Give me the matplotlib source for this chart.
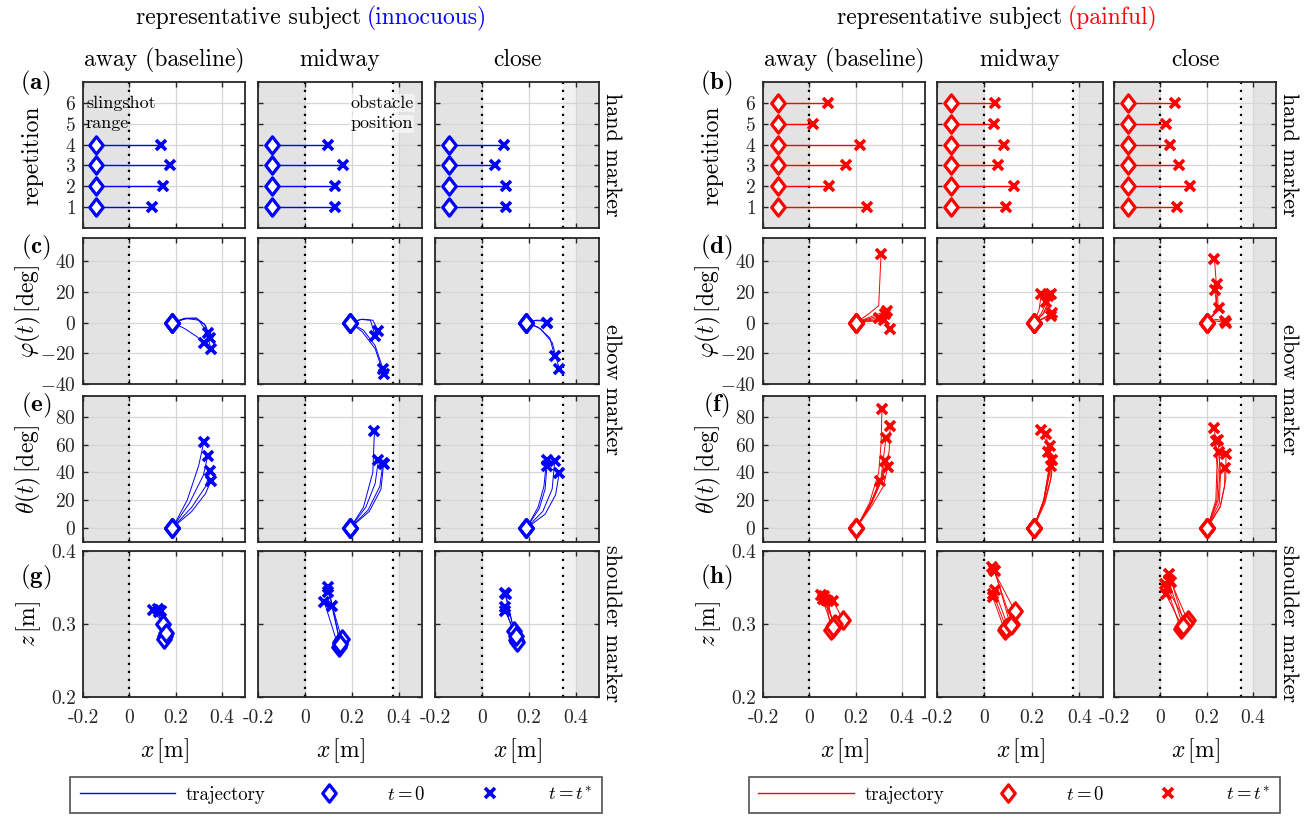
import matplotlib.pyplot as plt
from matplotlib.lines import Line2D
from matplotlib.path import Path

plt.rcParams["font.family"] = "cmr10"
plt.rcParams["mathtext.fontset"] = "cm"
plt.rcParams["axes.unicode_minus"] = False
plt.rcParams["axes.formatter.use_mathtext"] = True

# ---- data ----
conditions = ["away (baseline)", "midway", "close"]
obstacle_inn = [None, 0.378, 0.345]
obstacle_pain = [None, 0.373, 0.350]

# hand marker: x at t=0 per condition, x at t=t* per repetition (1..n)
hand_x0_inn = [-0.142, -0.141, -0.140]
hand_xt_inn = [[0.097, 0.144, 0.176, 0.137],
               [0.128, 0.128, 0.164, 0.097],
               [0.105, 0.105, 0.055, 0.094]]
hand_x0_pain = [-0.135, -0.140, -0.138]
hand_xt_pain = [[0.249, 0.084, 0.159, 0.217, 0.015, 0.080],
                [0.091, 0.123, 0.058, 0.084, 0.039, 0.043],
                [0.072, 0.130, 0.080, 0.042, 0.025, 0.062]]

# elbow marker, (x, phi) samples along each trajectory
phi_inn = [
    [[(0.186, 0), (0.24, -4), (0.29, -9), (0.322, -13)],
     [(0.186, 0), (0.24, 2.5), (0.29, 2.5), (0.325, -1), (0.339, -6.6)],
     [(0.186, 0), (0.24, 2.8), (0.29, 3), (0.33, -2), (0.35, -10.3)],
     [(0.186, 0), (0.25, 2.6), (0.30, 1.5), (0.335, -6), (0.353, -17.5)]],
    [[(0.193, 0), (0.24, 2), (0.28, 1.5), (0.30, -8.7)],
     [(0.193, 0), (0.245, 2.2), (0.29, 1.5), (0.314, -5.5)],
     [(0.193, 0), (0.25, -5), (0.30, -15), (0.333, -30)],
     [(0.193, 0), (0.245, -6), (0.30, -17), (0.336, -33.4)]],
    [[(0.19, 0), (0.23, 1.5), (0.26, 1.5), (0.276, 0)],
     [(0.19, 0), (0.23, 1.2), (0.26, 1.0), (0.278, -0.5)],
     [(0.19, 0), (0.24, -3), (0.29, -10), (0.311, -21.9)],
     [(0.19, 0), (0.25, -4), (0.30, -13), (0.33, -30)]],
]
theta_inn = [
    [[(0.186, 0), (0.25, 20), (0.30, 45), (0.322, 62)],
     [(0.186, 0), (0.26, 18), (0.32, 38), (0.339, 52)],
     [(0.186, 0), (0.27, 15), (0.33, 30), (0.35, 41)],
     [(0.186, 0), (0.27, 12), (0.33, 25), (0.353, 34)]],
    [[(0.193, 0), (0.25, 15), (0.29, 40), (0.297, 69.6)],
     [(0.193, 0), (0.26, 15), (0.30, 32), (0.314, 49)],
     [(0.193, 0), (0.27, 13), (0.32, 30), (0.333, 46.7)],
     [(0.193, 0), (0.275, 12), (0.325, 28), (0.336, 46)]],
    [[(0.19, 0), (0.24, 15), (0.265, 30), (0.276, 48.7)],
     [(0.19, 0), (0.245, 14), (0.27, 28), (0.278, 45)],
     [(0.19, 0), (0.26, 12), (0.30, 28), (0.311, 48)],
     [(0.19, 0), (0.27, 10), (0.315, 24), (0.33, 39.5)]],
]
phi_pain = [
    [[(0.203, 0), (0.26, 6), (0.30, 11), (0.31, 44.4)],
     [(0.203, 0), (0.27, 4), (0.336, 7.7)],
     [(0.203, 0), (0.27, 3), (0.329, 5.5)],
     [(0.203, 0), (0.26, 2), (0.303, 2.8)],
     [(0.203, 0), (0.27, 1.5), (0.321, 1.5)],
     [(0.203, 0), (0.28, 1), (0.33, 0), (0.35, -4.4)]],
    [[(0.207, 0), (0.23, 8), (0.24, 18.6)],
     [(0.207, 0), (0.24, 6), (0.261, 13.1)],
     [(0.207, 0), (0.25, 6), (0.27, 12), (0.279, 18.6)],
     [(0.207, 0), (0.245, 5), (0.26, 10), (0.267, 17.5)],
     [(0.207, 0), (0.25, 3), (0.283, 5.9)],
     [(0.207, 0), (0.25, 2.5), (0.28, 4.5)]],
    [[(0.203, 0), (0.24, 8), (0.245, 20), (0.234, 41.1)],
     [(0.203, 0), (0.245, 8), (0.236, 21.2)],
     [(0.203, 0), (0.25, 9), (0.246, 25.1)],
     [(0.203, 0), (0.253, 9.2)],
     [(0.203, 0), (0.24, 2), (0.279, 1.1)],
     [(0.203, 0), (0.24, 1), (0.284, 0)]],
]
theta_pain = [
    [[(0.203, 0), (0.26, 18), (0.30, 40), (0.31, 60), (0.314, 85.5)],
     [(0.203, 0), (0.27, 18), (0.32, 38), (0.345, 55), (0.35, 73.5)],
     [(0.203, 0), (0.265, 18), (0.31, 36), (0.331, 64.6)],
     [(0.203, 0), (0.265, 17), (0.31, 33), (0.326, 48.2)],
     [(0.203, 0), (0.27, 16), (0.32, 30), (0.339, 43.9)],
     [(0.203, 0), (0.26, 15), (0.304, 33.7)]],
    [[(0.207, 0), (0.25, 20), (0.275, 45), (0.265, 60), (0.24, 70.4)],
     [(0.207, 0), (0.25, 20), (0.275, 45), (0.261, 67.5)],
     [(0.207, 0), (0.252, 20), (0.278, 42), (0.276, 58.8)],
     [(0.207, 0), (0.25, 20), (0.275, 40), (0.267, 54.7)],
     [(0.207, 0), (0.255, 20), (0.283, 38), (0.286, 48.7)],
     [(0.207, 0), (0.255, 18), (0.28, 35), (0.281, 45)]],
    [[(0.203, 0), (0.24, 20), (0.245, 45), (0.234, 72.3)],
     [(0.203, 0), (0.245, 20), (0.25, 42), (0.239, 62.7)],
     [(0.203, 0), (0.25, 20), (0.258, 42), (0.25, 63)],
     [(0.203, 0), (0.255, 18), (0.26, 38), (0.253, 54.7)],
     [(0.203, 0), (0.26, 16), (0.283, 35), (0.284, 53)],
     [(0.203, 0), (0.258, 15), (0.278, 30), (0.279, 43.4)]],
]

# shoulder marker, (x, z) at t=0 and at t=t*
z_inn = [
    [[(0.147, 0.300), (0.104, 0.319)], [(0.155, 0.284), (0.122, 0.320)],
     [(0.150, 0.280), (0.130, 0.316)], [(0.158, 0.287), (0.138, 0.318)]],
    [[(0.144, 0.268), (0.083, 0.330)], [(0.150, 0.275), (0.100, 0.351)],
     [(0.158, 0.279), (0.100, 0.344)], [(0.152, 0.272), (0.115, 0.325)]],
    [[(0.138, 0.291), (0.098, 0.342)], [(0.145, 0.278), (0.102, 0.341)],
     [(0.150, 0.275), (0.098, 0.323)], [(0.147, 0.283), (0.100, 0.318)]],
]
z_pain = [
    [[(0.101, 0.294), (0.051, 0.340)], [(0.108, 0.298), (0.065, 0.339)],
     [(0.145, 0.306), (0.104, 0.331)], [(0.094, 0.292), (0.072, 0.333)],
     [(0.112, 0.300), (0.058, 0.334)], [(0.104, 0.296), (0.080, 0.332)]],
    [[(0.128, 0.318), (0.031, 0.378)], [(0.118, 0.300), (0.040, 0.374)],
     [(0.085, 0.292), (0.035, 0.337)], [(0.100, 0.296), (0.043, 0.346)],
     [(0.092, 0.294), (0.038, 0.341)], [(0.110, 0.298), (0.045, 0.372)]],
    [[(0.104, 0.300), (0.039, 0.368)], [(0.089, 0.293), (0.022, 0.355)],
     [(0.118, 0.305), (0.046, 0.358)], [(0.095, 0.296), (0.024, 0.341)],
     [(0.110, 0.302), (0.030, 0.350)], [(0.098, 0.297), (0.036, 0.360)]],
]

# ---- layout (pixels) ----
W, H = 1308, 817
fig = plt.figure(figsize=(W / 100, H / 100), dpi=100)

col_left = [(83, 245), (258, 422), (435, 599)]
col_right = [(763, 925), (937, 1103), (1114, 1276)]
rows = [(82, 228), (238, 384), (396, 542), (551, 697)]

DIAMOND = Path([(0, 1), (0.78, 0), (0, -1), (-0.78, 0), (0, 1)], closed=True)
GRAY = "#e3e3e3"
DARK = "#262626"
YLAB_X = -0.245


def add_ax(xs, ys):
    x0, x1 = xs
    y0, y1 = ys
    return fig.add_axes([x0 / W, 1 - y1 / H, (x1 - x0) / W, (y1 - y0) / H])


def decorate(ax, obstacle, ylim, yticks, bottom, first):
    ax.set_xlim(-0.2, 0.5)
    ax.set_ylim(*ylim)
    ax.set_xticks([-0.2, 0, 0.2, 0.4])
    ax.set_yticks(yticks)
    ax.grid(True, color="#d6d6d6", lw=0.9)
    ax.set_axisbelow(True)
    ax.tick_params(direction="in", length=3.5, width=1, top=True, right=True,
                   labelsize=14, labelcolor=DARK, color=DARK, pad=5,
                   labelbottom=bottom, labelleft=first)
    if bottom:
        ax.set_xticklabels(["-0.2", "0", "0.2", "0.4"])
        ax.tick_params(axis="x", pad=9)
    for sp in ax.spines.values():
        sp.set_color(DARK)
        sp.set_linewidth(1.3)
    ax.axvspan(-0.2, 0, color=GRAY, lw=0, zorder=0.1)
    ax.axvline(0, color="k", ls=(0, (1, 2.6)), lw=1.6, zorder=1.5)
    if obstacle is not None:
        ax.axvspan(obstacle, 0.4, color="#f1f1f1", lw=0, zorder=0.1)
        ax.axvspan(0.4, 0.5, color=GRAY, lw=0, zorder=0.1)
        ax.axvline(obstacle, color="k", ls=(0, (1, 2.6)), lw=1.6, zorder=1.5)


def start_end(ax, x0, y0, x1, y1, color):
    ax.plot(x0, y0, ls="none", marker=DIAMOND, ms=12.5, mew=2.3, mec=color,
            mfc="white", zorder=3)
    ax.plot(x1, y1, ls="none", marker="x", ms=6.5, mew=2.6, color=color, zorder=4)


def draw_group(cols, color, hand_x0, hand_xt, phi, theta, zs, obstacles, letters):
    for c, xs in enumerate(cols):
        first = c == 0
        # hand
        ax = add_ax(xs, rows[0])
        decorate(ax, obstacles[c], (0, 7), [1, 2, 3, 4, 5, 6], False, first)
        reps = list(range(1, len(hand_xt[c]) + 1))
        for r, xt in zip(reps, hand_xt[c]):
            ax.plot([hand_x0[c], xt], [r, r], color=color, lw=1.0, zorder=2)
        start_end(ax, [hand_x0[c]] * len(reps), reps, hand_xt[c], reps, color)
        if first:
            ax.set_ylabel("repetition", fontsize=17)
            ax.yaxis.set_label_coords(YLAB_X, 0.5)
        if first and color == "blue":
            ax.text(-0.187, 6, "slingshot", fontsize=13, va="center", zorder=5)
            ax.text(-0.187, 5, "range", fontsize=13, va="center", zorder=5)
        if c == 1 and color == "blue":
            for yy, s in [(6, "obstacle"), (5, "position")]:
                ax.text(0.194, yy, s, fontsize=13, va="center", zorder=5,
                        bbox=dict(facecolor="white", alpha=0.55, lw=0, pad=1))
        # elbow phi / theta
        for ri, data, ylim, yt, lab in [
            (1, phi, (-40, 55), [-40, -20, 0, 20, 40], r"$\varphi(t)\,[\mathrm{deg}]$"),
            (2, theta, (-10, 95), [0, 20, 40, 60, 80], r"$\theta(t)\,[\mathrm{deg}]$"),
        ]:
            ax = add_ax(xs, rows[ri])
            decorate(ax, obstacles[c], ylim, yt, False, first)
            for path in data[c]:
                px = [p[0] for p in path]
                py = [p[1] for p in path]
                ax.plot(px, py, color=color, lw=0.7, zorder=2)
            start_end(ax, [p[0][0] for p in data[c]], [p[0][1] for p in data[c]],
                      [p[-1][0] for p in data[c]], [p[-1][1] for p in data[c]], color)
            if first:
                ax.set_ylabel(lab, fontsize=17)
                ax.yaxis.set_label_coords(YLAB_X, 0.5)
        # shoulder
        ax = add_ax(xs, rows[3])
        decorate(ax, obstacles[c], (0.2, 0.4), [0.2, 0.3, 0.4], True, first)
        if first:
            ax.set_yticklabels(["0.2", "0.3", "0.4"])
        for path in zs[c]:
            ax.plot([p[0] for p in path], [p[1] for p in path], color=color,
                    lw=0.7, zorder=2)
        start_end(ax, [p[0][0] for p in zs[c]], [p[0][1] for p in zs[c]],
                  [p[-1][0] for p in zs[c]], [p[-1][1] for p in zs[c]], color)
        ax.set_xlabel(r"$x\,[\mathrm{m}]$", fontsize=17)
        ax.xaxis.set_label_coords(0.5, -0.27)
        if first:
            ax.set_ylabel(r"$z\,[\mathrm{m}]$", fontsize=17)
            ax.yaxis.set_label_coords(YLAB_X, 0.5)
        # column header
        fig.text((xs[0] + xs[1]) / 2 / W, 1 - 60 / H, conditions[c],
                 ha="center", va="center", fontsize=17)

    # panel letters
    lx = cols[0][0] - 47
    for (y, letter) in zip([83, 247, 405, 577], letters):
        fig.text(lx / W, 1 - y / H, r"$(\mathbf{%s})$" % letter, ha="center",
                 va="center", fontsize=18)
    # marker labels on the right
    rx = cols[2][1] + 13
    for y, s in [(155, "hand marker"), (390, "elbow marker"), (624, "shoulder marker")]:
        fig.text(rx / W, 1 - y / H, s, rotation=-90, ha="center", va="center",
                 fontsize=16)

    # legend
    handles = [
        Line2D([], [], color=color, lw=1),
        Line2D([], [], ls="none", marker=DIAMOND, ms=12.5, mew=2.3, mec=color, mfc="white"),
        Line2D([], [], ls="none", marker="x", ms=6.5, mew=2.6, color=color),
    ]
    labels = ["trajectory", r"$t=0$", r"$t=t^{*}$"]
    cx = (cols[0][0] - 18 + cols[2][1] + 8) / 2
    leg = fig.legend(handles, labels, loc="center", bbox_to_anchor=(cx / W, 1 - 795 / H),
                     ncol=3, fontsize=13.5, handlelength=5.1, handletextpad=0.55,
                     columnspacing=0.85, frameon=True, fancybox=False,
                     edgecolor=DARK, borderpad=0.5, numpoints=1)
    leg.get_frame().set_linewidth(1.2)


draw_group(col_left, "blue", hand_x0_inn, hand_xt_inn, phi_inn, theta_inn, z_inn,
           obstacle_inn, "aceg")
draw_group(col_right, "red", hand_x0_pain, hand_xt_pain, phi_pain, theta_pain, z_pain,
           obstacle_pain, "bdfh")

# two-coloured group titles
fig.text(361 / W, 1 - 18 / H, "representative subject", ha="right", va="center",
         fontsize=17)
fig.text(367 / W, 1 - 18 / H, "(innocuous)", ha="left", va="center", fontsize=17,
         color="blue")
fig.text(1062 / W, 1 - 18 / H, "representative subject", ha="right", va="center",
         fontsize=17)
fig.text(1068 / W, 1 - 18 / H, "(painful)", ha="left", va="center", fontsize=17,
         color="red")

fig.savefig("out.png", dpi=100)
